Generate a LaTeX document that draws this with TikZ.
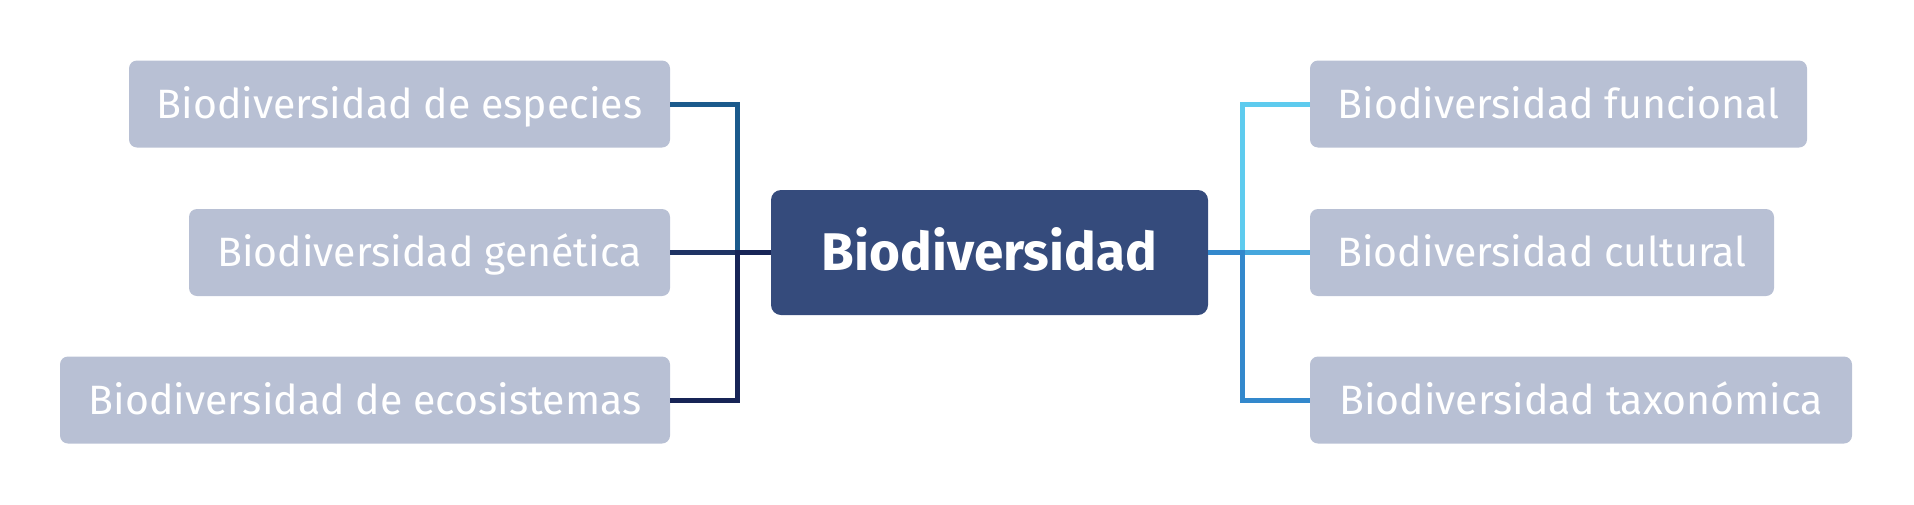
\documentclass[tikz,border=0pt]{standalone}
\usepackage{fontspec}
\setmainfont{Fira Sans}
\definecolor{leaf}{HTML}{B8C0D4}
\definecolor{hub}{HTML}{354B7C}
\definecolor{cA}{HTML}{1B5A8C}
\definecolor{cB}{HTML}{1F3364}
\definecolor{cC}{HTML}{172456}
\definecolor{cD}{HTML}{5ECBEE}
\definecolor{cE}{HTML}{46A7DD}
\definecolor{cF}{HTML}{3388CC}
\tikzset{
  leafbox/.style={rectangle, rounded corners=8pt, fill=leaf, text=white, inner sep=0pt,
    minimum height=87pt, text height=28.2pt, text depth=0pt, font=\fontsize{41}{44}\selectfont},
  hubbox/.style={rectangle, rounded corners=10pt, fill=hub, text=white, inner sep=0pt,
    minimum width=437pt, minimum height=125pt, text height=36.5pt, text depth=0pt,
    font=\fontsize{53}{58}\selectfont\bfseries},
  link/.style={line width=5pt}
}
\begin{document}
\begin{tikzpicture}[x=1pt,y=-1pt]
\useasboundingbox (0,0) rectangle (1914,504);
\node[hubbox] (hub) at (989.5,252.5) {Biodiversidad};
\node[leafbox, minimum width=541pt] (l1) at (399.5,104) {Biodiversidad de especies};
\node[leafbox, minimum width=481pt] (l2) at (429.5,252.5) {Biodiversidad genética};
\node[leafbox, minimum width=610pt] (l3) at (365,400) {Biodiversidad de ecosistemas};
\node[leafbox, minimum width=497pt] (r1) at (1558.5,104) {Biodiversidad funcional};
\node[leafbox, minimum width=464pt] (r2) at (1542,252.5) {Biodiversidad cultural};
\node[leafbox, minimum width=542pt] (r3) at (1581,400) {Biodiversidad taxonómica};
\coordinate (jl) at (737,252.5);
\coordinate (jr) at (1242,252.5);
\draw[link, cA] (hub.west) -- (jl) |- (l1.east);
\draw[link, cB] (hub.west) -- (l2.east);
\draw[link, cC] (hub.west) -- (jl) |- (l3.east);
\draw[link, cD] (hub.east) -- (jr) |- (r1.west);
\draw[link, cE] (hub.east) -- (r2.west);
\draw[link, cF] (hub.east) -- (jr) |- (r3.west);
\end{tikzpicture}
\end{document}
